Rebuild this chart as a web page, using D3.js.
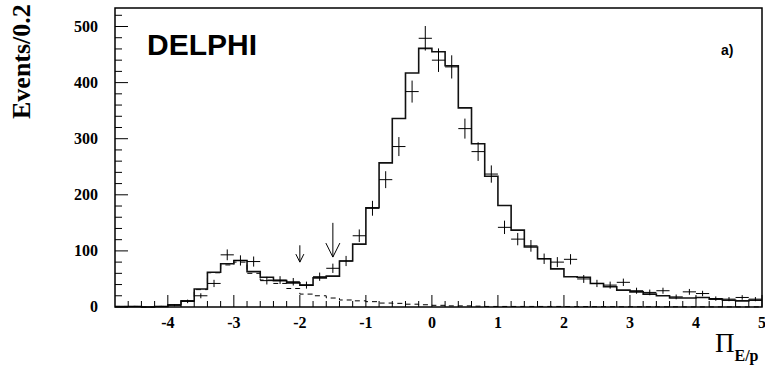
<!DOCTYPE html>
<html>
<head>
<meta charset="utf-8">
<script src="https://cdn.jsdelivr.net/npm/d3@7"></script>
<style>
  body { margin: 0; background: #fff; }
  svg { display: block; }
</style>
</head>
<body>
<svg id="chart" width="765" height="368"></svg>
<script>
// bin centres, width 0.2, from -4.8 to 5.0
const binLow = -4.8, binWidth = 0.2;
// simulation histogram (solid)
const histCounts = [1, 1, 0, 1, 4, 11, 32, 62, 77, 83, 63, 53, 47, 43, 39, 52, 55, 82, 112, 177,
  257, 336, 417, 461, 455, 430, 355, 291, 233, 181, 137, 107, 86, 68, 54, 53, 42, 36, 30, 27,
  23, 20, 16, 16, 17, 14, 12, 11, 12];
// data points (crosses)
const dataCounts = [0, 1, 0, 1, 3, 10, 20, 42, 93, 83, 81, 47, 48, 45, 39, 54, 69, 82, 127, 176,
  227, 286, 384, 479, 440, 428, 318, 277, 237, 142, 121, 109, 86, 80, 85, 50, 42, 39, 44, 29,
  26, 29, 18, 27, 24, 15, 14, 17, 14];
// hadron background (dashed)
const bkgCounts = [1, 1, 0, 1, 4, 11, 31, 61, 75, 80, 60, 48, 42, 33, 23, 20, 16, 12.5, 11, 9.5,
  7, 6.5, 5, 4, 3, 2, 2, 1.5, 1, 1, 1, 1, 1, 1, 0.8, 0.8, 0.6, 0.6, 0.5, 0.5,
  0.5, 0.4, 0.4, 0.3, 0.3, 0.3, 0.2, 0.2, 0.2];
// cut arrows: position, top and tip values
const arrows = [
  {x: -2.0, from: 110, to: 80, head: 4},
  {x: -1.5, from: 150, to: 89, head: 7}
];
const xTicks = [-4, -3, -2, -1, 0, 1, 2, 3, 4, 5];
const yTicks = [0, 100, 200, 300, 400, 500];

const svg = d3.select('#chart');
const mLeft = 115, mTop = 8, mRight = 762, mBottom = 307;

const x = d3.scaleLinear().domain([-4.8, 5]).range([mLeft, mRight]);
const y = d3.scaleLinear().domain([0, 533]).range([mBottom, mTop]);

const bins = histCounts.map((c, i) => {
  let lo = binLow + i * binWidth;
  return {lo: lo, hi: lo + binWidth, mid: lo + binWidth / 2, h: c, d: dataCounts[i], b: bkgCounts[i]};
});

// step path helper
function stepPath(key) {
  let p = d3.path();
  bins.forEach((b, i) => {
    if (i === 0) p.moveTo(x(b.lo), y(b[key]));
    else p.lineTo(x(b.lo), y(b[key]));
    p.lineTo(x(b.hi), y(b[key]));
  });
  return p.toString();
}

// axis ticks (drawn inside the frame)
const xMinor = d3.range(-4.6, 5.0001, 0.2).map(v => +v.toFixed(1));
svg.append('g').selectAll('line')
  .data(xMinor)
  .enter().append('line')
  .attr('x1', d => x(d)).attr('x2', d => x(d))
  .attr('y1', mBottom)
  .attr('y2', d => Math.abs(d - Math.round(d)) < 1e-6 ? mBottom - 12 : mBottom - 6)
  .attr('stroke', '#000').attr('stroke-width', 1);

const yMinor = d3.range(0, 533, 20);
svg.append('g').selectAll('line')
  .data(yMinor)
  .enter().append('line')
  .attr('y1', d => y(d)).attr('y2', d => y(d))
  .attr('x1', mLeft)
  .attr('x2', d => d % 100 === 0 ? mLeft + 13 : mLeft + 7)
  .attr('stroke', '#000').attr('stroke-width', 1);

// background (dashed)
svg.append('path')
  .attr('d', stepPath('b'))
  .attr('fill', 'none')
  .attr('stroke', '#000')
  .attr('stroke-width', 1)
  .attr('stroke-dasharray', '5,4');

// histogram (solid)
svg.append('path')
  .attr('d', stepPath('h'))
  .attr('fill', 'none')
  .attr('stroke', '#111')
  .attr('stroke-width', 1.6);

// data crosses
let pts = svg.append('g').selectAll('g')
  .data(bins.filter(b => b.d > 0))
  .enter().append('g');
pts.append('line')
  .attr('x1', d => x(d.lo)).attr('x2', d => x(d.hi))
  .attr('y1', d => y(d.d)).attr('y2', d => y(d.d))
  .attr('stroke', '#000').attr('stroke-width', 1);
pts.append('line')
  .attr('x1', d => x(d.mid)).attr('x2', d => x(d.mid))
  .attr('y1', d => y(d.d + Math.sqrt(d.d))).attr('y2', d => y(Math.max(0, d.d - Math.sqrt(d.d))))
  .attr('stroke', '#000').attr('stroke-width', 1);

// arrows
arrows.forEach(a => {
  let ax = x(a.x), y0 = y(a.from), y1 = y(a.to);
  svg.append('line')
    .attr('x1', ax).attr('x2', ax).attr('y1', y0).attr('y2', y1)
    .attr('stroke', '#000').attr('stroke-width', 1);
  svg.append('path')
    .attr('d', `M${ax - a.head},${y1 - a.head * 2}L${ax},${y1}L${ax + a.head},${y1 - a.head * 2}`)
    .attr('fill', 'none').attr('stroke', '#000').attr('stroke-width', 1);
});

// frame
svg.append('rect')
  .attr('x', mLeft).attr('y', mTop)
  .attr('width', mRight - mLeft).attr('height', mBottom - mTop)
  .attr('fill', 'none').attr('stroke', '#000').attr('stroke-width', 1.5);

// tick labels
const serif = '"Liberation Serif", "Times New Roman", serif';
const sans = '"Liberation Sans", Arial, Helvetica, sans-serif';
svg.append('g').selectAll('text')
  .data(xTicks)
  .enter().append('text')
  .attr('x', d => x(d)).attr('y', 328)
  .attr('text-anchor', 'middle')
  .style('font-family', serif).style('font-weight', 'bold').style('font-size', '16px')
  .text(d => d);

svg.append('g').selectAll('text')
  .data(yTicks)
  .enter().append('text')
  .attr('x', 98).attr('y', d => y(d) + 5)
  .attr('text-anchor', 'end')
  .style('font-family', serif).style('font-weight', 'bold').style('font-size', '16px')
  .text(d => d);

// axis titles
svg.append('text')
  .attr('transform', 'translate(30,119) rotate(-90)')
  .style('font-family', serif).style('font-weight', 'bold').style('font-size', '26px')
  .text('Events/0.2');

let xt = svg.append('text')
  .attr('x', 715).attr('y', 352)
  .style('font-family', serif);
xt.append('tspan').style('font-size', '27px').text('Π');
xt.append('tspan').attr('dy', 9).style('font-size', '16px').style('font-weight', 'bold').text('E/p');

svg.append('text')
  .attr('x', 147).attr('y', 55)
  .style('font-family', sans).style('font-weight', 'bold').style('font-size', '30px')
  .text('DELPHI');

svg.append('text')
  .attr('x', 721).attr('y', 55)
  .style('font-family', sans).style('font-weight', 'bold').style('font-size', '14px')
  .text('a)');
</script>
</body>
</html>
